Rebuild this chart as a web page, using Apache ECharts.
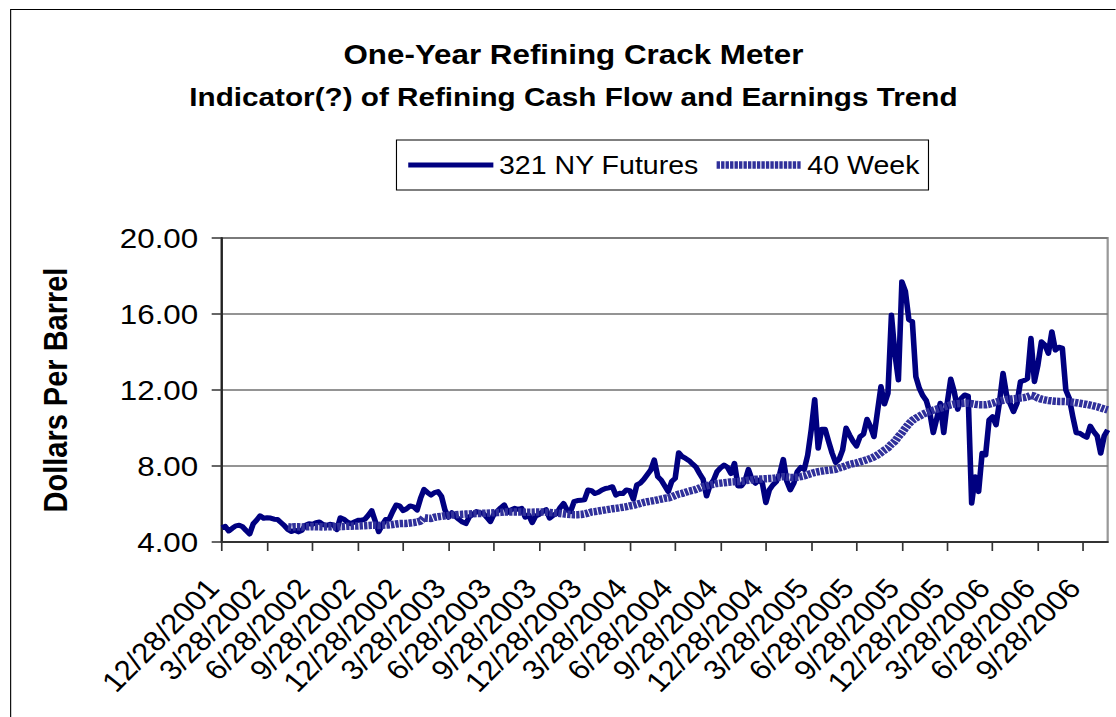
<!DOCTYPE html>
<html>
<head>
<meta charset="utf-8">
<title>One-Year Refining Crack Meter</title>
<script src="https://cdn.jsdelivr.net/npm/echarts@6/dist/echarts.min.js"></script>
<style>
  html, body { margin: 0; padding: 0; background: #fff; }
  #wrap { width: 1116px; height: 717px; overflow: hidden; }
  /* the source picture is a little wider than tall, so draw narrower and stretch */
  #chart { width: 996px; height: 717px; transform: scaleX(1.12); transform-origin: 0 0; }
</style>
</head>
<body>
<div id="wrap"><div id="chart"></div></div>
<script>
// quarterly tick labels, one every 13 weeks
const tickLabels = [
  '12/28/2001', '3/28/2002', '6/28/2002', '9/28/2002', '12/28/2002',
  '3/28/2003', '6/28/2003', '9/28/2003', '12/28/2003', '3/28/2004',
  '6/28/2004', '9/28/2004', '12/28/2004', '3/28/2005', '6/28/2005',
  '9/28/2005', '12/28/2005', '3/28/2006', '6/28/2006', '9/28/2006'
]
const WEEKS_PER_TICK = 13

// weekly 3-2-1 NY futures crack, $/bbl
const futures = [
  4.75, 4.82, 4.58, 4.72, 4.85, 4.88, 4.80, 4.60, 4.42, 4.95,
  5.15, 5.38, 5.25, 5.28, 5.26, 5.20, 5.19, 5.02, 4.85, 4.65,
  4.55, 4.62, 4.53, 4.62, 4.88, 4.96, 4.93, 5.02, 5.05, 4.92,
  4.88, 4.93, 4.90, 4.65, 5.28, 5.20, 5.05, 4.96, 5.05, 5.14,
  5.15, 5.19, 5.40, 5.65, 5.10, 4.54, 4.90, 5.19, 5.20, 5.60,
  5.95, 5.90, 5.65, 5.75, 5.90, 5.85, 5.68, 6.30, 6.77, 6.60,
  6.47, 6.60, 6.65, 6.40, 5.68, 5.30, 5.54, 5.35, 5.19, 5.05,
  4.97, 5.33, 5.45, 5.60, 5.55, 5.50, 5.30, 5.07, 5.45, 5.62,
  5.80, 5.95, 5.55, 5.70, 5.77, 5.72, 5.77, 5.30, 5.42, 5.02,
  5.37, 5.45, 5.60, 5.70, 5.25, 5.40, 5.50, 5.80, 6.03, 5.68,
  5.60, 6.12, 6.18, 6.20, 6.22, 6.74, 6.70, 6.55, 6.62, 6.74,
  6.82, 6.85, 6.91, 6.47, 6.56, 6.55, 6.74, 6.70, 6.25, 7.00,
  7.10, 7.30, 7.55, 7.79, 8.32, 7.44, 7.26, 6.95, 6.65, 7.18,
  7.35, 8.70, 8.50, 8.40, 8.28, 8.10, 7.93, 7.60, 7.30, 6.42,
  7.00, 7.26, 7.70, 7.90, 8.05, 7.93, 7.60, 8.14, 6.95, 6.95,
  7.20, 7.82, 7.30, 7.09, 7.26, 7.09, 6.07, 6.74, 7.00, 7.18,
  7.60, 8.35, 7.20, 6.74, 7.09, 7.70, 7.93, 7.82, 8.58, 9.90,
  11.50, 8.93, 9.93, 9.93, 9.28, 8.67, 8.18, 8.35, 8.84, 10.00,
  9.63, 9.30, 9.05, 9.54, 9.68, 10.46, 10.07, 9.54, 10.86, 12.18,
  11.26, 11.82, 15.95, 13.90, 12.53, 17.70, 17.20, 15.70, 15.60, 12.70,
  12.09, 11.70, 11.44, 10.81, 9.75, 10.50, 11.30, 9.75, 11.30, 12.58,
  11.91, 10.98, 11.56, 11.74, 11.68, 6.04, 7.44, 6.65, 8.67, 8.58,
  10.42, 10.60, 10.16, 11.39, 12.88, 11.74, 11.30, 10.86, 11.30, 12.44,
  12.50, 12.60, 14.72, 12.44, 13.32, 14.54, 14.37, 13.93, 15.07, 14.10,
  14.25, 14.20, 12.00, 11.56, 10.60, 9.75, 9.72, 9.60, 9.51, 10.10,
  9.81, 9.58, 8.67, 9.58, 9.90
]

// 40 week average, first value sits on week 19
const FORTY_WEEK_START = 19
const fortyWeek = [
  4.80, 4.78, 4.80, 4.80, 4.79, 4.80, 4.80, 4.81, 4.80, 4.80, 4.79, 4.80, 4.80, 4.81, 4.80, 4.82, 4.82, 4.83, 4.83, 4.84, 4.84, 4.85,
  4.86, 4.87, 4.88, 4.88, 4.87, 4.88, 4.89, 4.90, 4.92, 4.95, 4.97, 4.98, 4.98, 5.00, 5.02, 5.05, 5.10,
  5.28, 5.25, 5.24, 5.30, 5.33, 5.35, 5.38, 5.40, 5.42, 5.43, 5.45, 5.46, 5.47, 5.48, 5.49, 5.50, 5.50, 5.51, 5.52, 5.53, 5.54, 5.55, 5.56, 5.58, 5.58, 5.58, 5.58,
  5.58, 5.58, 5.57, 5.57, 5.57, 5.58, 5.58, 5.58, 5.57, 5.55, 5.54, 5.52, 5.50, 5.48, 5.46, 5.45, 5.44, 5.44, 5.45, 5.48,
  5.52, 5.58, 5.60, 5.63, 5.66, 5.69, 5.72, 5.75, 5.77, 5.80, 5.83, 5.86, 5.90,
  5.93, 5.98, 6.03, 6.08, 6.12, 6.15, 6.18, 6.22, 6.26,
  6.30, 6.32, 6.38, 6.45, 6.52, 6.56, 6.62, 6.68, 6.72, 6.77, 6.84, 6.92, 6.96, 7.00, 7.04, 7.08, 7.10, 7.12, 7.14, 7.16,
  7.17, 7.18, 7.20, 7.22, 7.25, 7.27, 7.30, 7.31, 7.32, 7.33, 7.34, 7.35, 7.38, 7.42, 7.44, 7.42, 7.40, 7.40, 7.41, 7.44,
  7.48, 7.55, 7.60, 7.66, 7.70, 7.73, 7.76, 7.78, 7.80, 7.83, 7.90, 7.95, 8.02, 8.08, 8.12, 8.16, 8.22, 8.27, 8.33, 8.40, 8.48, 8.58,
  8.70, 8.84, 8.95, 9.15, 9.30, 9.55, 9.75, 10.00, 10.22, 10.40, 10.52, 10.62, 10.72, 10.80, 10.87, 10.94, 10.99, 11.04, 11.10, 11.16, 11.22, 11.26,
  11.28, 11.29, 11.30, 11.30, 11.28, 11.25, 11.23, 11.22, 11.22, 11.25, 11.30, 11.36, 11.42, 11.46, 11.50, 11.52, 11.54, 11.56, 11.58, 11.60, 11.64, 11.72,
  11.68, 11.58, 11.52, 11.48, 11.45, 11.43, 11.41, 11.40, 11.40, 11.39, 11.38, 11.36, 11.33, 11.30, 11.27, 11.24, 11.20, 11.16, 11.12, 11.06, 11.00, 10.95
]

const FONT = '"Liberation Sans", Arial, sans-serif'
const NAVY = '#000080'
const AVG_BLUE = '#30309a'

const weeks = futures.map((v, i) => String(i))
const avgData = new Array(FORTY_WEEK_START).fill(null).concat(fortyWeek)

const chart = echarts.init(document.getElementById('chart'), null, { renderer: 'svg' })

const titleStyle = { fontFamily: FONT, fontWeight: 'bold', color: '#000', lineHeight: 34 }

const option = {
  animation: false,
  backgroundColor: '#fff',
  textStyle: { fontFamily: FONT, color: '#000' },
  title: {
    text: 'One-Year Refining Crack Meter',
    subtext: 'Indicator(?) of Refining Cash Flow and Earnings Trend',
    left: 507,
    top: 32,
    itemGap: 9,
    textAlign: 'center',
    textStyle: { ...titleStyle, fontSize: 28 },
    subtextStyle: { ...titleStyle, fontSize: 26.5 }
  },
  legend: {
    left: 354,
    top: 140,
    padding: [10, 8],
    borderColor: '#000',
    borderWidth: 1,
    itemWidth: 76,
    // tiny height hides the marker dot that line series put in their legend icon
    itemHeight: 1,
    itemGap: 12,
    lineStyle: { width: 'inherit' },
    textStyle: { fontFamily: FONT, fontSize: 25.5, color: '#000', lineHeight: 30 },
    data: ['321 NY Futures', '40 Week']
  },
  grid: {
    left: 198,
    right: 7,
    top: 238,
    bottom: 175,
    show: true,
    borderColor: '#999',
    borderWidth: 2
  },
  xAxis: {
    type: 'category',
    boundaryGap: false,
    data: weeks,
    axisLine: { lineStyle: { color: '#333', width: 2 } },
    axisTick: { interval: WEEKS_PER_TICK - 1, length: 9, lineStyle: { color: '#333', width: 1.5 } },
    axisLabel: {
      interval: WEEKS_PER_TICK - 1,
      rotate: 48,
      margin: 32,
      padding: [0, 12, 0, 0],
      fontFamily: FONT,
      fontSize: 28,
      color: '#000',
      formatter: (v, idx) => tickLabels[Math.round(idx / WEEKS_PER_TICK)]
    },
    splitLine: { show: false }
  },
  yAxis: {
    type: 'value',
    min: 4,
    max: 20,
    interval: 4,
    name: 'Dollars Per Barrel',
    nameLocation: 'middle',
    nameGap: 134,
    nameRotate: 90,
    nameTextStyle: { fontFamily: FONT, fontSize: 29, fontWeight: 'bold', color: '#000' },
    axisLine: { show: true, lineStyle: { color: '#222', width: 2 } },
    axisTick: { show: true, length: 9, lineStyle: { color: '#333', width: 1.5 } },
    axisLabel: {
      margin: 21,
      fontFamily: FONT,
      fontSize: 28,
      color: '#000',
      formatter: v => v.toFixed(2)
    },
    splitLine: { lineStyle: { color: '#707070', width: 1.5 } }
  },
  series: [
    {
      name: '321 NY Futures',
      type: 'line',
      data: futures,
      symbol: 'none',
      lineStyle: { color: NAVY, width: 5, join: 'round' },
      itemStyle: { color: NAVY },
      z: 2
    },
    {
      name: '40 Week',
      type: 'line',
      data: avgData,
      symbol: 'none',
      lineStyle: { color: AVG_BLUE, width: 7.5, type: [3, 1], cap: 'butt' },
      itemStyle: { color: AVG_BLUE },
      z: 3
    }
  ],
  graphic: [
    {
      // outer chart frame, runs off the right and bottom of the picture
      type: 'rect',
      left: 7,
      top: 7,
      shape: { width: 1100, height: 800 },
      style: { fill: 'none', stroke: '#000', lineWidth: 1 },
      silent: true
    }
  ]
}

chart.setOption(option)
</script>
</body>
</html>
